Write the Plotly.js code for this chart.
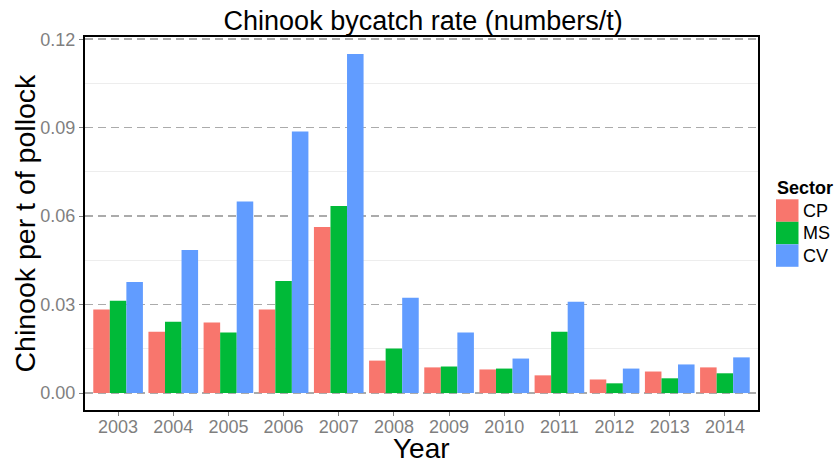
<!DOCTYPE html>
<html>
<head>
<meta charset="utf-8">
<script src="https://cdn.plot.ly/plotly-3.0.1.min.js"></script>
<style>html,body{margin:0;padding:0;background:#fff;}#chart{width:838px;height:463px;}</style>
</head>
<body>
<div id="chart"></div>
<script>
var years = ['2003','2004','2005','2006','2007','2008','2009','2010','2011','2012','2013','2014'];
var sectors = ['CP','MS','CV'];
var cpValues = [0.0283,0.0208,0.0239,0.0283,0.0563,0.0110,0.0087,0.0080,0.0060,0.0046,0.0073,0.0087];
var msValues = [0.0313,0.0242,0.0205,0.0380,0.0634,0.0151,0.0090,0.0083,0.0208,0.0033,0.0050,0.0067];
var cvValues = [0.0377,0.0485,0.0650,0.0887,0.1150,0.0323,0.0205,0.0117,0.0310,0.0083,0.0097,0.0121];
var yTickVals = [0, 0.03, 0.06, 0.09, 0.12];
var yTickText = ['0.00','0.03','0.06','0.09','0.12'];
var yMinorVals = [0.015, 0.045, 0.075, 0.105];
var colors = ['#F8766D','#00BA38','#619CFF'];

var seriesValues = [cpValues, msValues, cvValues];
var traces = sectors.map(function(s, i){
  return {type:'bar', name:s, x:years, y:seriesValues[i], marker:{color:colors[i], line:{width:0}}, hoverinfo:'x+y+name', showlegend:false};
});

// plot area geometry (px) used only to place the legend in paper coords
var plotL = 85, plotW = 838 - 85 - 80, plotB = 410, plotH = 463 - 37 - 53;
function px2x(px){ return (px - plotL) / plotW; }
function px2y(py){ return (plotB - py) / plotH; }

var shapes = [], annotations = [];
var swTop = 199.3, swH = 22.5;
sectors.forEach(function(s, i){
  var y0 = swTop + i*swH, y1 = y0 + swH;
  shapes.push({type:'rect', xref:'paper', yref:'paper', x0:px2x(776), x1:px2x(798.5), y0:px2y(y1), y1:px2y(y0), fillcolor:colors[i], line:{width:0}, layer:'above'});
  annotations.push({text:s, xref:'paper', yref:'paper', x:px2x(800.5), y:px2y((y0+y1)/2), xanchor:'left', yanchor:'middle', showarrow:false, font:{size:18, color:'#000'}});
});
annotations.push({text:'<b>Sector</b>', xref:'paper', yref:'paper', x:px2x(775.5), y:px2y(188.3), xanchor:'left', yanchor:'middle', showarrow:false, font:{size:18, color:'#000'}});
annotations.push({text:'Year', xref:'paper', yref:'paper', x:0.5, y:px2y(448), xanchor:'center', yanchor:'middle', showarrow:false, font:{size:28, color:'#000'}});
annotations.push({text:'Chinook per t of pollock', xref:'paper', yref:'paper', x:px2x(24), y:0.5, xanchor:'center', yanchor:'middle', textangle:-90, showarrow:false, font:{size:28.5, color:'#000'}});

var layout = {
  width:838, height:463,
  margin:{l:85, r:80, t:37, b:53, autoexpand:false},
  paper_bgcolor:'#fff', plot_bgcolor:'#fff',
  font:{family:'Liberation Sans, Arial, sans-serif', color:'#000'},
  title:{text:'Chinook bycatch rate (numbers/t)', font:{size:27, color:'#000'}, x:0.5025, xanchor:'center', xref:'paper', y:0.955, yanchor:'middle'},
  barmode:'group', bargap:0.1, bargroupgap:0,
  xaxis:{
    type:'category', range:[-0.6, 11.6], automargin:false,
    showgrid:false, zeroline:false,
    showline:true, linecolor:'#000', linewidth:2, mirror:true,
    ticks:'outside', ticklen:4, tickcolor:'#7f7f7f', tickwidth:1,
    ticklabelstandoff:-5,
    tickfont:{size:18, color:'#7f7f7f'}
  },
  yaxis:{
    range:[-0.00575, 0.12075], automargin:false,
    tickmode:'array', tickvals:yTickVals, ticktext:yTickText,
    showgrid:true, gridcolor:'#ababab', gridwidth:1.5, griddash:'8px,5px',
    minor:{tickmode:'array', tickvals:yMinorVals, showgrid:true, gridcolor:'#ededed', gridwidth:1, griddash:'solid', ticks:''},
    zeroline:false,
    showline:true, linecolor:'#000', linewidth:2, mirror:true,
    ticks:'outside', ticklen:4, tickcolor:'#7f7f7f', tickwidth:1,
    tickfont:{size:18, color:'#7f7f7f'}
  },
  shapes:shapes,
  annotations:annotations,
  showlegend:false
};

Plotly.newPlot('chart', traces, layout, {displayModeBar:false, staticPlot:true});
</script>
</body>
</html>
